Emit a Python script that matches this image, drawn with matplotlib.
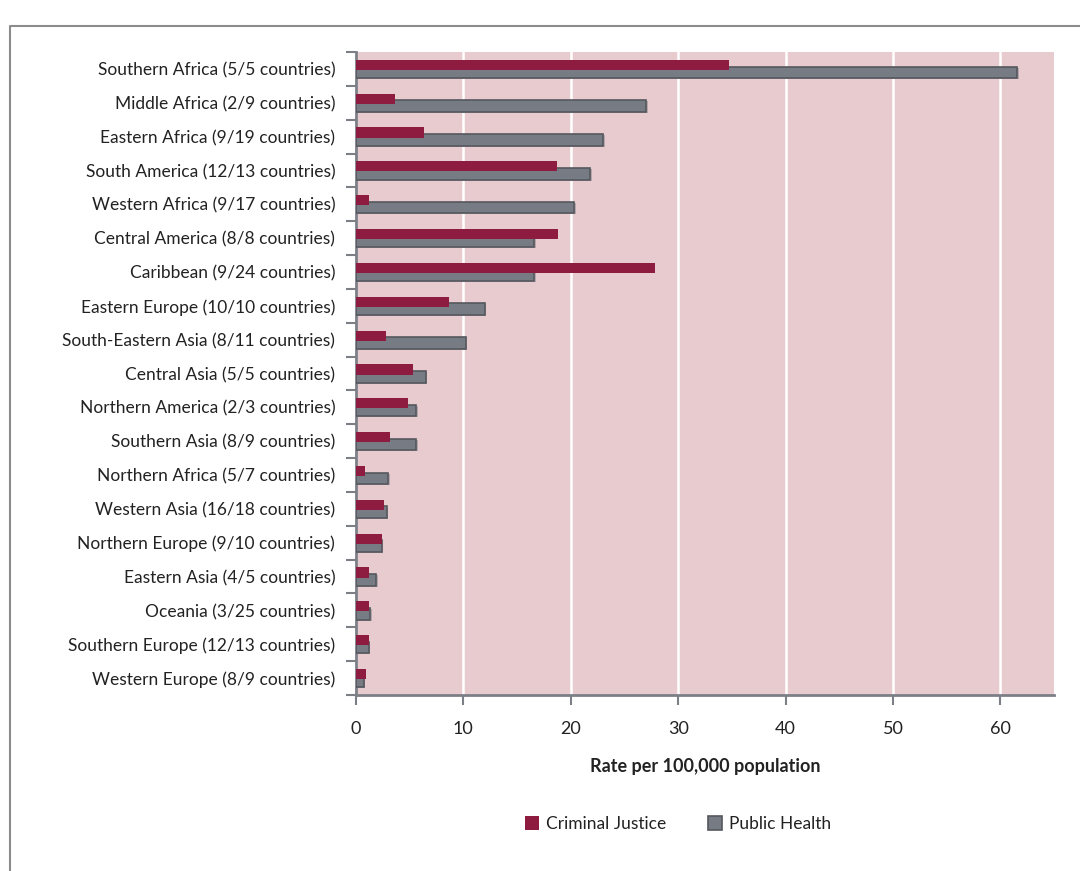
import numpy as np
import matplotlib.pyplot as plt
from matplotlib.lines import Line2D

regions = ["Southern Africa (5/5 countries)", "Middle Africa (2/9 countries)",
           "Eastern Africa (9/19 countries)", "South America (12/13 countries)",
           "Western Africa (9/17 countries)", "Central America (8/8 countries)",
           "Caribbean (9/24 countries)", "Eastern Europe (10/10 countries)",
           "South-Eastern Asia (8/11 countries)", "Central Asia (5/5 countries)",
           "Northern America (2/3 countries)", "Southern Asia (8/9 countries)",
           "Northern Africa (5/7 countries)", "Western Asia (16/18 countries)",
           "Northern Europe (9/10 countries)", "Eastern Asia (4/5 countries)",
           "Oceania (3/25 countries)", "Southern Europe (12/13 countries)",
           "Western Europe (8/9 countries)"]
criminal_justice = [34.7, 3.6, 6.3, 18.75, 1.2, 18.8, 27.8, 8.7, 2.8, 5.3,
                    4.85, 3.2, 0.85, 2.6, 2.4, 1.2, 1.2, 1.2, 0.9]
public_health = [61.6, 27.0, 23.0, 21.8, 20.3, 16.6, 16.6, 12.0, 10.2, 6.5,
                 5.6, 5.6, 3.0, 2.85, 2.4, 1.9, 1.35, 1.2, 0.7]
xticks = [0, 10, 20, 30, 40, 50, 60]

plt.rcParams['font.family'] = ['Lato', 'DejaVu Sans']

fig = plt.figure(figsize=(10.8, 8.71), dpi=100)
ax = fig.add_axes([356/1080, 1 - 695/871, (1054 - 356)/1080, (695 - 52)/871])

y = np.arange(len(regions))
axis_grey = "#7d7f87"

# shadow under public health bars
ax.barh(y + 0.13, public_health, height=0.34, left=0.15, color="#b5a6ab",
        zorder=2, linewidth=0)
ax.barh(y + 0.1, public_health, height=0.34, color="#777b84",
        edgecolor="#55575e", linewidth=1.2, zorder=3, label="Public Health")
ax.barh(y - 0.12, criminal_justice, height=0.3, color="#8e1b40",
        linewidth=0, zorder=4, label="Criminal Justice")

ax.set_ylim(len(regions) - 0.5, -0.5)
ax.set_xlim(0, 65)
ax.set_facecolor("#e8cbce")
ax.set_xticks(xticks)
ax.set_yticks(np.arange(len(regions) + 1) - 0.5, minor=False)
ax.set_yticklabels([])
ax.set_yticks(y, minor=True)
ax.set_yticklabels(regions, minor=True)
ax.tick_params(axis="y", which="minor", length=0, pad=15, labelsize=12.5,
               labelcolor="#222222")
ax.tick_params(axis="y", which="major", length=7, width=1.5, color=axis_grey)
ax.tick_params(axis="x", length=7, width=1.5, color=axis_grey, pad=12,
               labelsize=13, labelcolor="#222222")
ax.grid(axis="x", color="white", linewidth=1.8, zorder=1)
ax.set_axisbelow(True)
for s in ["top", "right"]:
    ax.spines[s].set_visible(False)
for s in ["left", "bottom"]:
    ax.spines[s].set_color(axis_grey)
    ax.spines[s].set_linewidth(2)

ax.set_xlabel("Rate per 100,000 population", fontsize=13, fontweight="bold",
              color="#222222", labelpad=15)

handles, labels = ax.get_legend_handles_labels()
fig.legend(handles[::-1], labels[::-1], loc="center", ncol=2, frameon=False,
           bbox_to_anchor=(0.628, 1 - 824/871), fontsize=12.5,
           handlelength=0.8, handleheight=0.8, columnspacing=2.4,
           handletextpad=0.4, labelcolor="#222222")

# outer frame
fig.add_artist(Line2D([10/1080, 10/1080, 1], [0, 1 - 26/871, 1 - 26/871],
                      transform=fig.transFigure, color="#8c8c8c", linewidth=1.5))

fig.savefig("out.png", dpi=100)
